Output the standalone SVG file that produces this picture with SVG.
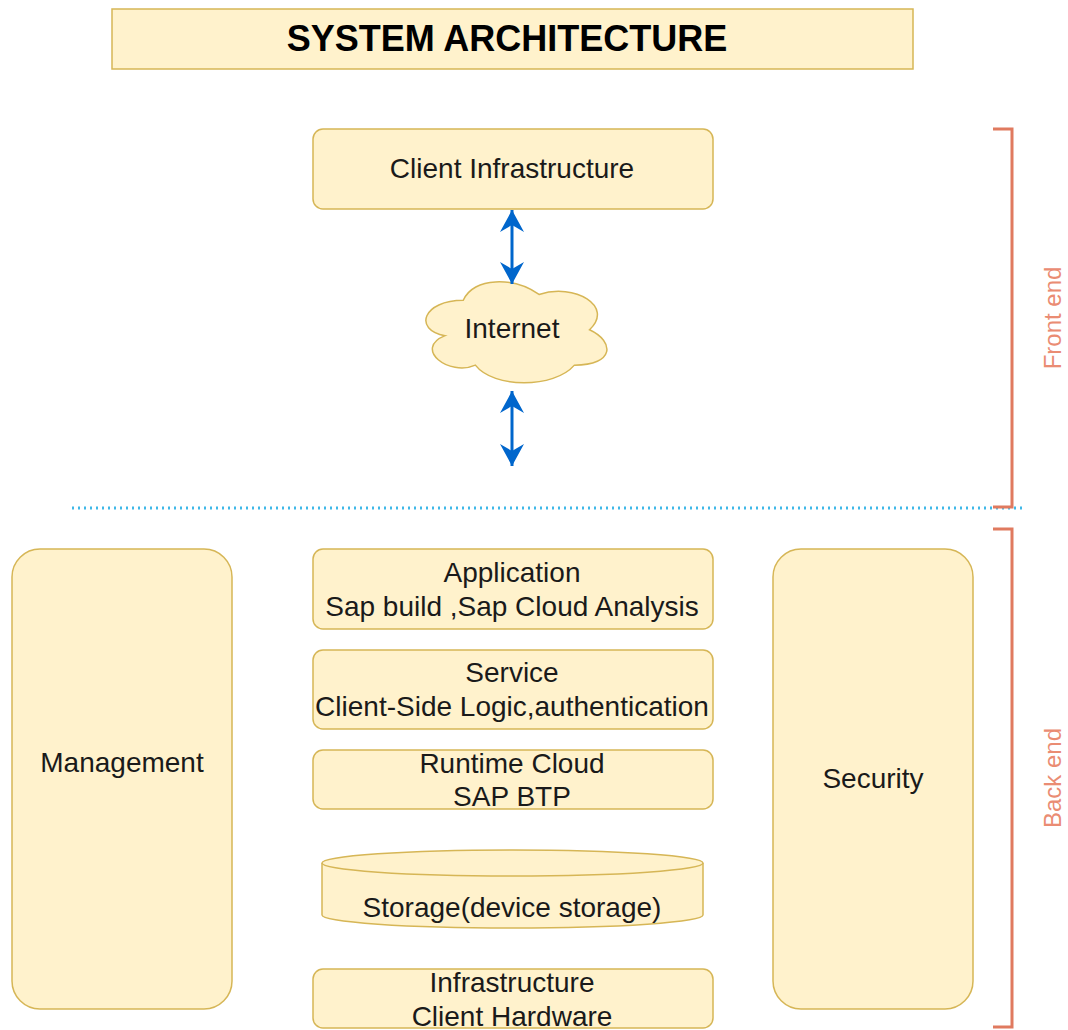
<svg xmlns="http://www.w3.org/2000/svg" width="1068" height="1030" viewBox="0 0 1068 1030">
<style>
.box{fill:#fff2cc;stroke:#d6b656;stroke-width:1.5}
.t{font-family:"Liberation Sans",Arial,sans-serif;font-size:28px;fill:#1a1a1a;text-anchor:middle}
.title{font-family:"Liberation Sans",Arial,sans-serif;font-size:36px;font-weight:bold;fill:#000;text-anchor:middle}
.br{fill:none;stroke:#e07a5f;stroke-width:3}
.bl{font-family:"Liberation Sans",Arial,sans-serif;font-size:24px;fill:#ea8c73;text-anchor:middle}
.arr{stroke:#0066cc;stroke-width:3;fill:none;marker-start:url(#ah);marker-end:url(#ah)}
</style>
<defs>
<marker id="ah" markerUnits="userSpaceOnUse" markerWidth="24" markerHeight="26" refX="22" refY="12" orient="auto-start-reverse">
<path d="M0,0 L22,12 L0,24 L7,12 Z" fill="#0066cc"/>
</marker>
</defs>
<rect width="1068" height="1030" fill="#fff"/>
<g id="title">
<rect class="box" x="112" y="9" width="801" height="60"/>
<text class="title" x="507" y="51">SYSTEM ARCHITECTURE</text>
</g>
<g id="client-infrastructure">
<rect class="box" x="313" y="129" width="400" height="80" rx="10"/>
<text class="t" x="512" y="178">Client Infrastructure</text>
</g>
<g id="internet">
<path class="box" vector-effect="non-scaling-stroke" transform="translate(516,331.5) scale(1.11,1.144) translate(-518,-333)" d="M470.5,305.75 C434.1,305.75 425,331.5 454.1,336.65 C425,348 457.8,372.7 481.4,362.4 C497.8,383 552.4,383 570.6,362.4 C607,362.4 607,341.8 584.25,331.5 C607,310.9 570.6,290.3 538.75,300.6 C516,285.15 479.6,285.15 470.5,305.75 Z"/>
<text class="t" x="512" y="338">Internet</text>
</g>
<g id="connectors">
<line class="arr" x1="512" y1="210" x2="512" y2="284"/>
<line class="arr" x1="512" y1="391" x2="512" y2="466"/>
<line x1="72" y1="508" x2="1023" y2="508" stroke="#3fb8e8" stroke-width="3" stroke-dasharray="2 4"/>
</g>
<g id="front-end">
<path class="br" d="M993,129 L1012,129 L1012,507 L993,507"/>
<text class="bl" transform="translate(1061,318) rotate(-90)">Front end</text>
</g>
<g id="back-end">
<path class="br" d="M993,529 L1012,529 L1012,1027 L993,1027"/>
<text class="bl" transform="translate(1061,778) rotate(-90)">Back end</text>
</g>
<g id="management">
<rect class="box" x="12" y="549" width="220" height="460" rx="28"/>
<text class="t" x="122" y="772">Management</text>
</g>
<g id="security">
<rect class="box" x="773" y="549" width="200" height="460" rx="28"/>
<text class="t" x="873" y="788">Security</text>
</g>
<g id="application">
<rect class="box" x="313" y="549" width="400" height="80" rx="10"/>
<text class="t" x="512" y="582">Application</text>
<text class="t" x="512" y="616">Sap build ,Sap Cloud Analysis</text>
</g>
<g id="service">
<rect class="box" x="313" y="650" width="400" height="79" rx="10"/>
<text class="t" x="512" y="682">Service</text>
<text class="t" x="512" y="716">Client-Side Logic,authentication</text>
</g>
<g id="runtime">
<rect class="box" x="313" y="750" width="400" height="59" rx="10"/>
<text class="t" x="512" y="773">Runtime Cloud</text>
<text class="t" x="512" y="806">SAP BTP</text>
</g>
<g id="storage">
<path class="box" d="M322,863 A190.5,13 0 0 1 703,863 L703,915 A190.5,13 0 0 1 322,915 Z"/>
<path class="box" d="M322,863 A190.5,13 0 0 0 703,863" fill="none"/>
<text class="t" x="512" y="917">Storage(device storage)</text>
</g>
<g id="infrastructure">
<rect class="box" x="313" y="969" width="400" height="59" rx="10"/>
<text class="t" x="512" y="992">Infrastructure</text>
<text class="t" x="512" y="1026">Client Hardware</text>
</g>
</svg>
